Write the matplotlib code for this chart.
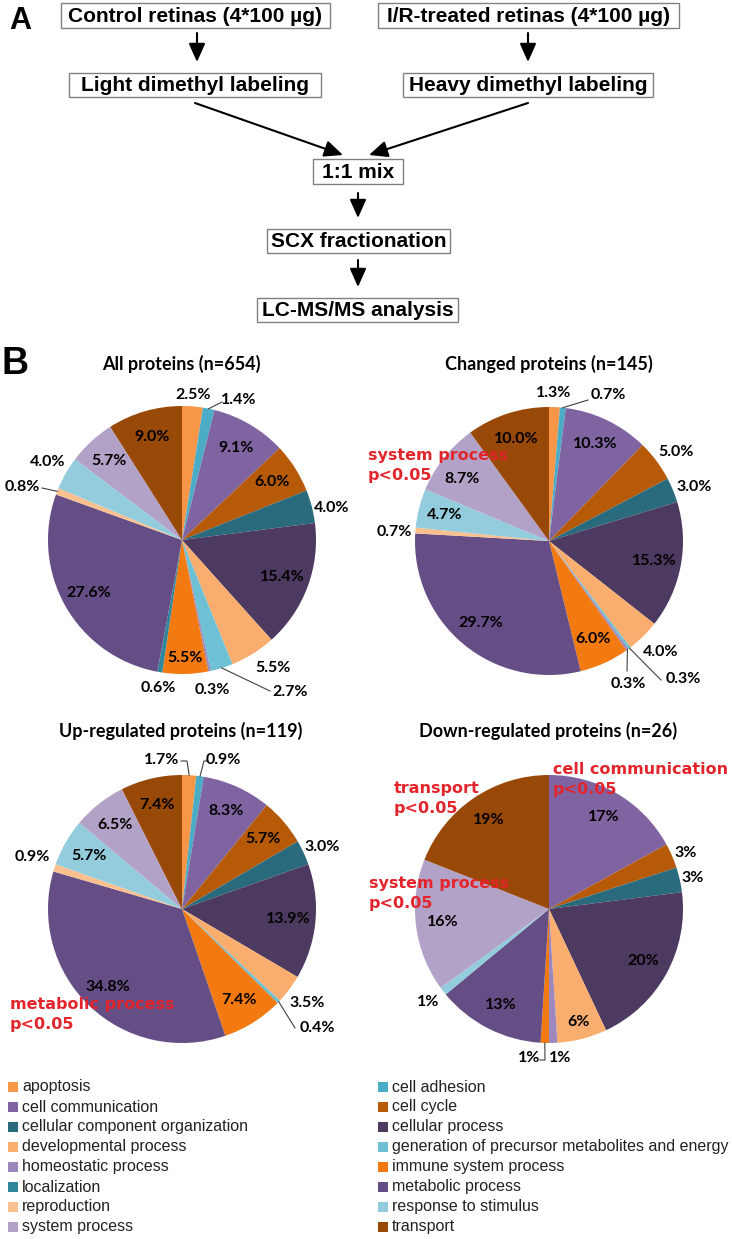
import numpy as np
import matplotlib
matplotlib.use("Agg")
import matplotlib.pyplot as plt
from matplotlib.patches import Rectangle

# ------------------------------------------------------------
# data
# ------------------------------------------------------------
categories = [
    "apoptosis", "cell adhesion", "cell communication", "cell cycle",
    "cellular component organization", "cellular process",
    "developmental process", "generation of precursor metabolites and energy",
    "homeostatic process", "immune system process", "localization",
    "metabolic process", "reproduction", "response to stimulus",
    "system process", "transport",
]
colors = [
    "#F79646", "#4BACC6", "#8064A2", "#B65A08",
    "#296B7C", "#4C3A61",
    "#F9AE6F", "#6EC0D5",
    "#9D88BD", "#F27A10", "#31869C",
    "#654E85", "#FAC090", "#93CDDD",
    "#B3A2C7", "#984807",
]

all_vals = [2.5, 1.4, 9.1, 6.0, 4.0, 15.4, 5.5, 2.7, 0.3, 5.5, 0.6, 27.6, 0.8, 4.0, 5.7, 9.0]
changed_vals = [1.3, 0.7, 10.3, 5.0, 3.0, 15.3, 4.0, 0.3, 0.3, 6.0, 0.0, 29.7, 0.7, 4.7, 8.7, 10.0]
up_vals = [1.7, 0.9, 8.3, 5.7, 3.0, 13.9, 3.5, 0.4, 0.0, 7.4, 0.0, 34.8, 0.9, 5.7, 6.5, 7.4]
down_vals = [0, 0, 17, 3, 3, 20, 6, 0, 1, 1, 0, 13, 0, 1, 16, 19]

titles = ["All proteins (n=654)", "Changed proteins (n=145)",
          "Up-regulated proteins (n=119)", "Down-regulated proteins (n=26)"]

flow_steps = ["Control retinas (4*100 µg)", "I/R-treated retinas (4*100 µg)",
              "Light dimethyl labeling", "Heavy dimethyl labeling",
              "1:1 mix", "SCX fractionation", "LC-MS/MS analysis"]

# ------------------------------------------------------------
# layout (pixels)
# ------------------------------------------------------------
W, H = 732, 1239
R = 134
RED = "#E3242B"
LABEL_FONT = "Lato"
BOX_FONT = "Liberation Sans"

fig = plt.figure(figsize=(W / 100, H / 100), dpi=100)

# label overrides: category index -> (dx, dy) in px from centre (y down)
# leaders: category index -> polyline points after the slice edge
pies = [
    dict(vals=all_vals, c=(182, 540), fmt="{:.1f}%",
         pos={0: (11, -145), 1: (57, -140), 4: (150, -32), 6: (91, 128),
              7: (108, 152), 8: (30, 150), 9: (3, 118), 10: (-24, 148),
              12: (-160, -53), 13: (-134, -78)},
         lead={1: [(40, -138)], 7: [(88, 151)], 12: [(-140, -52)]}),
    dict(vals=changed_vals, c=(549, 541), fmt="{:.1f}%",
         pos={0: (5, -148), 1: (59, -146), 3: (127, -89), 4: (145, -54),
              6: (112, 111), 7: (134, 138), 8: (79, 143), 12: (-155, -9),
              14: (-87, -62)},
         lead={1: [(39, -141)], 7: [(112, 139)], 8: [(78, 130)]}),
    dict(vals=up_vals, c=(182, 909), fmt="{:.1f}%",
         pos={0: (-20, -149), 1: (41, -149), 4: (140, -62), 6: (125, 94),
              7: (135, 119), 12: (-150, -52)},
         lead={0: [(5, -148), (-1, -148)], 1: [(22, -148), (25, -148)],
               7: [(113, 119)]}),
    dict(vals=down_vals, c=(549, 909), fmt="{:.0f}%",
         pos={3: (137, -56), 4: (144, -31), 6: (30, 113), 8: (11, 149),
              9: (-20, 149), 13: (-121, 93)},
         lead={9: [(-4, 151), (-9, 151)]}),
]

for i, p in enumerate(pies):
    cx, cy = p["c"]
    k = 1.5
    ax = fig.add_axes([(cx - k * R) / W, 1 - (cy + k * R) / H,
                       2 * k * R / W, 2 * k * R / H])
    ax.axis("off")
    vals = np.array(p["vals"], dtype=float)
    ax.pie(vals, colors=colors, startangle=90, counterclock=False,
           radius=1, wedgeprops=dict(linewidth=0))
    ax.set_xlim(-k, k)
    ax.set_ylim(-k, k)
    ax.set_aspect("equal")
    frac = vals / vals.sum()
    cum = np.cumsum(frac) - frac / 2
    for j, v in enumerate(vals):
        if v <= 0:
            continue
        th = np.deg2rad(90 - 360 * cum[j])
        if j in p["pos"]:
            dx, dy = p["pos"][j]
            lx, ly = dx / R, -dy / R
        else:
            lx, ly = 0.8 * np.cos(th), 0.8 * np.sin(th)
        if j in p["lead"]:
            xs = [np.cos(th)] + [q[0] / R for q in p["lead"][j]]
            ys = [np.sin(th)] + [-q[1] / R for q in p["lead"][j]]
            ax.plot(xs, ys, color="#404040", lw=0.8, clip_on=False)
        ax.text(lx, ly, p["fmt"].format(v), ha="center", va="center",
                fontsize=11.5, fontweight="bold", family=LABEL_FONT,
                color="black", clip_on=False)

# overlay axes in pixel coordinates
ov = fig.add_axes([0, 0, 1, 1], zorder=5)
ov.set_xlim(0, W)
ov.set_ylim(H, 0)
ov.axis("off")
ov.patch.set_alpha(0)

# ---------------- panel A ----------------
ov.text(9, 6, "A", fontsize=22, fontweight="bold", family=BOX_FONT,
        ha="left", va="top")

boxes = [(61, 3, 330, 28), (378, 3, 679, 28),
         (69, 73, 321, 97), (403, 73, 653, 97),
         (313, 159, 403, 184), (267, 229, 450, 253), (257, 298, 458, 322)]
for (x0, y0, x1, y1), txt in zip(boxes, flow_steps):
    ov.add_patch(Rectangle((x0, y0), x1 - x0, y1 - y0, fill=False,
                           ec="#808080", lw=1.0))
    ov.text((x0 + x1) / 2, (y0 + y1) / 2 + 0.5, txt, ha="center", va="center",
            fontsize=15, fontweight="bold", family=BOX_FONT)

arrows = [((197, 33), (197, 62)), ((528, 33), (528, 62)),
          ((195, 103), (343, 155)), ((528, 103), (369, 155)),
          ((358, 193), (358, 218)), ((358, 260), (358, 287))]
for s, e in arrows:
    ov.annotate("", xy=e, xytext=s,
                arrowprops=dict(arrowstyle="-|>,head_length=0.45,head_width=0.2",
                                color="black", lw=1.5, mutation_scale=25,
                                shrinkA=0, shrinkB=0))

# ---------------- panel B ----------------
ov.text(1, 346, "B", fontsize=27, fontweight="bold", family=BOX_FONT,
        ha="left", va="top")

title_pos = [(181, 370), (549, 370), (181, 737), (548, 737)]
for (tx, ty), t in zip(title_pos, titles):
    ov.text(tx, ty, t, ha="center", va="baseline", fontsize=13,
            fontweight="bold", family=LABEL_FONT)

# significance notes: each line drawn separately (line pitch 20 px)
red_notes = [(368, 448, "system process"),
             (10, 997, "metabolic process"),
             (394, 781, "transport"),
             (553, 762, "cell communication"),
             (369, 876, "system process")]
for x, y, t in red_notes:
    for n, line in enumerate([t, "p<0.05"]):
        ov.text(x, y + 20 * n, line, ha="left", va="top", fontsize=11.5,
                fontweight="bold", family="DejaVu Sans", color=RED)

# ---------------- legend ----------------
for i, (name, col) in enumerate(zip(categories, colors)):
    row, colno = divmod(i, 2)
    y = 1087 + 20 * row
    sx = 8 if colno == 0 else 378
    ov.add_patch(Rectangle((sx, y - 5), 10, 10, color=col, lw=0))
    ov.text(sx + 14, y, name, ha="left", va="center", fontsize=11.5,
            family=BOX_FONT, color="#222222")

fig.savefig("out.png", dpi=100)
